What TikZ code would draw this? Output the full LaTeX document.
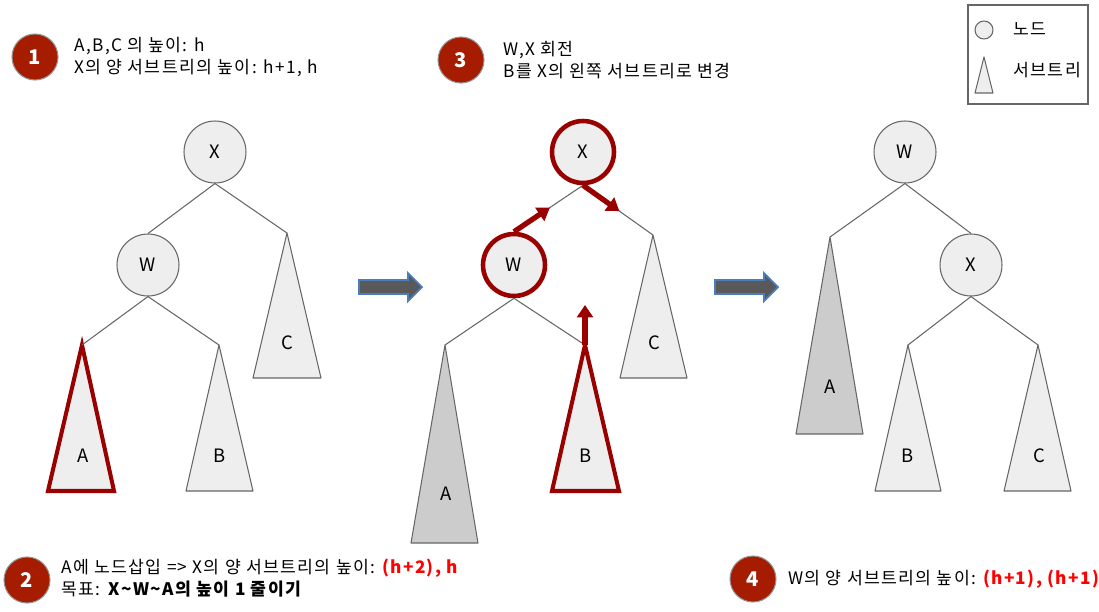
\documentclass[tikz,border=0pt]{standalone}
\usepackage{fontspec}
\setmainfont{Noto Sans CJK KR}
\newfontfamily\notefont{Noto Sans CJK KR}[LetterSpace=8]
\usetikzlibrary{arrows.meta,calc}
\definecolor{nodegray}{HTML}{EEEEEE}
\definecolor{subgray}{HTML}{CCCCCC}
\definecolor{linegray}{HTML}{666666}
\definecolor{hlred}{HTML}{990000}
\definecolor{badgered}{HTML}{A61C00}
\definecolor{arrowgray}{HTML}{595959}
\definecolor{arrowblue}{HTML}{4A7EBB}
\definecolor{txtred}{HTML}{FF0000}

\begin{document}
\begin{tikzpicture}[
  x=0.02cm, y=-0.02cm,
  treenode/.style={circle, draw=linegray, fill=nodegray, line width=0.6pt,
                   minimum size=1.24cm, inner sep=0pt, font=\fontsize{10.5}{12}\selectfont},
  hlnode/.style={treenode, draw=hlred, line width=2.6pt},
  edge/.style={draw=linegray, line width=0.6pt},
  subtree/.style={draw=linegray, fill=nodegray, line width=0.6pt, line join=round},
  darksubtree/.style={subtree, fill=subgray},
  hlsubtree/.style={draw=hlred, fill=nodegray, line width=2.3pt, line join=miter},
  sublabel/.style={font=\fontsize{10.5}{12}\selectfont, inner sep=1pt},
  hlarrow/.style={draw=hlred, line width=3pt, -{Triangle[length=7pt,width=9pt]}},
  blockarrow/.style={fill=arrowgray, draw=arrowblue, line width=1pt, line join=miter},
  badge/.style={circle, fill=badgered, draw=linegray!70, line width=0.6pt, minimum size=0.92cm,
                inner sep=0pt, text=white, font=\fontsize{11.5}{12}\selectfont\bfseries},
  note/.style={anchor=west, align=left, inner sep=0pt, font=\notefont\fontsize{9.8}{12.5}\selectfont},
]
\useasboundingbox (0,0) rectangle (1099,612);

% Tree 1
\node[treenode] (x1) at (215,152) {X};
\node[treenode] (w1) at (148,265) {W};
\coordinate (c1top) at (287,233);
\coordinate (a1top) at (82,345);
\coordinate (b1top) at (219,345);
\draw[subtree] (c1top) -- (253,378) -- (321,378) -- cycle;
\draw[hlsubtree] (a1top) -- (48,491) -- (114,491) -- cycle;
\draw[subtree] (b1top) -- (186,491) -- (253,491) -- cycle;
\node[sublabel] (c1) at (287,343) {C};
\node[sublabel] (a1) at (83,456) {A};
\node[sublabel] (b1) at (220,456) {B};
\draw[edge] (x1.south) -- (w1.north);
\draw[edge] (x1.south) -- (c1top);
\draw[edge] (w1.south) -- (a1top);
\draw[edge] (w1.south) -- (b1top);

% Tree 2
\node[hlnode] (x2) at (583,152) {X};
\node[hlnode] (w2) at (514,265) {W};
\coordinate (c2top) at (653,235);
\coordinate (a2top) at (445,345);
\coordinate (b2top) at (585,345);
\draw[subtree] (c2top) -- (620,378) -- (687,378) -- cycle;
\draw[darksubtree] (a2top) -- (411,543) -- (478,543) -- cycle;
\draw[hlsubtree] (b2top) -- (552,491) -- (619,491) -- cycle;
\node[sublabel] (c2) at (654,343) {C};
\node[sublabel] (a2) at (446,494) {A};
\node[sublabel] (b2) at (586,456) {B};
\draw[edge] (x2.south) -- (w2.north);
\draw[edge] (x2.south) -- (c2top);
\draw[edge] (w2.south) -- (a2top);
\draw[edge] (w2.south) -- (b2top);
\draw[hlarrow] (w2.north) -- ($(w2.north)!0.52!(x2.south)$);
\draw[hlarrow] (x2.south) -- ($(x2.south)!0.52!(c2top)$);
\draw[hlarrow] (b2top) -- ++(0,-40);

% Tree 3
\node[treenode] (w3) at (905,152) {W};
\node[treenode] (x3) at (971,265) {X};
\coordinate (a3top) at (830,237);
\coordinate (b3top) at (908,345);
\coordinate (c3top) at (1038,345);
\draw[darksubtree] (a3top) -- (796,434) -- (863,434) -- cycle;
\draw[subtree] (b3top) -- (875,491) -- (941,491) -- cycle;
\draw[subtree] (c3top) -- (1004,491) -- (1071,491) -- cycle;
\node[sublabel] (a3) at (830,387) {A};
\node[sublabel] (b3) at (908,456) {B};
\node[sublabel] (c3) at (1039,456) {C};
\draw[edge] (w3.south) -- (a3top);
\draw[edge] (w3.south) -- (x3.north);
\draw[edge] (x3.south) -- (b3top);
\draw[edge] (x3.south) -- (c3top);

% Block arrows
\draw[blockarrow] (359,280) -- (408,280) -- (408,273) -- (422,287) -- (408,301) -- (408,294) -- (359,294) -- cycle;
\draw[blockarrow] (715,280) -- (764,280) -- (764,273) -- (778,287) -- (764,301) -- (764,294) -- (715,294) -- cycle;

% Steps
\node[badge] (s1) at (35,57) {1};
\node[note] (t1) at (74,57) {A,B,C 의 높이: h\\X의 양 서브트리의 높이: h+1, h};
\node[badge] (s3) at (461,60) {3};
\node[note] (t3) at (503,60) {W,X 회전\\B를 X의 왼쪽 서브트리로 변경};
\node[badge] (s2) at (27,580) {2};
\node[note] (t2) at (61,578) {A에 노드삽입 => X의 양 서브트리의 높이: \textcolor{txtred}{\textbf{(h+2), h}}\\목표: \textbf{X\textasciitilde W\textasciitilde A의 높이 1 줄이기}};
\node[badge] (s4) at (753,579) {4};
\node[note] (t4) at (788,579) {W의 양 서브트리의 높이: \textcolor{txtred}{\textbf{(h+1), (h+1)}}};

% Legend
\draw[draw=linegray, line width=0.8pt] (968,5) rectangle (1088,104);
\node[treenode, minimum size=0.36cm] (lgnode) at (984,30) {};
\draw[subtree] (984,57) -- (975,93) -- (993,93) -- cycle;
\node[note] (lgnodetxt) at (1013,29) {노드};
\node[note] (lgsubtxt) at (1013,70) {서브트리};
\end{tikzpicture}
\end{document}
